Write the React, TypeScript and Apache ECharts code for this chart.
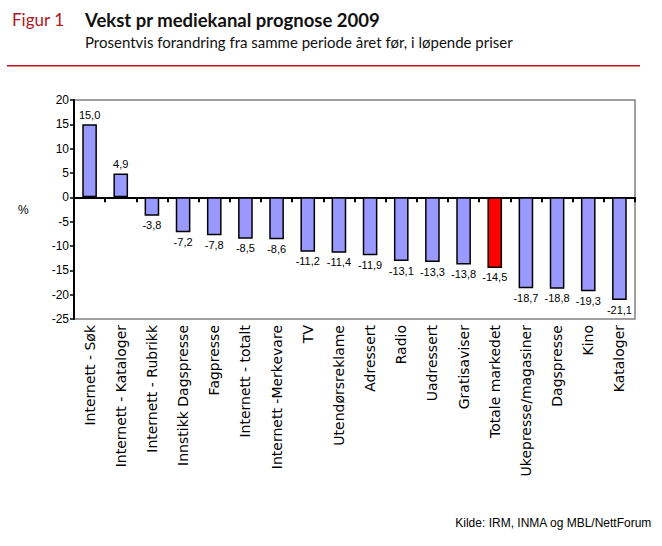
import React, { useEffect, useRef } from "react";
import * as echarts from "echarts";

const categories = [
  "Internett - Søk",
  "Internett - Kataloger",
  "Internett - Rubrikk",
  "Innstikk Dagspresse",
  "Fagpresse",
  "Internett - totalt",
  "Internett -Merkevare",
  "TV",
  "Utendørsreklame",
  "Adressert",
  "Radio",
  "Uadressert",
  "Gratisaviser",
  "Totale markedet",
  "Ukepresse/magasiner",
  "Dagspresse",
  "Kino",
  "Kataloger",
];
const growth = [15.0, 4.9, -3.8, -7.2, -7.8, -8.5, -8.6, -11.2, -11.4, -11.9, -13.1, -13.3, -13.8, -14.5, -18.7, -18.8, -19.3, -21.1];
const highlighted = "Totale markedet";
const yTicks = { min: -25, max: 20, interval: 5 };

export default function App() {
  const ref = useRef<HTMLDivElement>(null);
  useEffect(() => {
    document.body.style.margin = "0";
    if (!ref.current) return;
    const chart = echarts.init(ref.current, undefined, { renderer: "svg" });
    const labelFont = "'Liberation Sans', Arial, sans-serif";
    chart.setOption({
      animation: false,
      backgroundColor: "#ffffff",
      grid: {
        left: 74,
        right: 27,
        top: 100,
        bottom: 227,
        show: true,
        borderColor: "#808080",
        borderWidth: 1.5,
        backgroundColor: "transparent",
      },
      graphic: [
        {
          type: "text",
          left: 12,
          top: 11,
          style: { text: "Figur 1", fill: "#b0161e", font: "17px Lato, sans-serif" },
        },
        {
          type: "text",
          left: 85,
          top: 10,
          style: { text: "Vekst pr mediekanal prognose 2009", fill: "#111", font: "bold 18.5px Lato, sans-serif" },
        },
        {
          type: "text",
          left: 85,
          top: 34,
          style: { text: "Prosentvis forandring fra samme periode året før, i løpende priser", fill: "#111", font: "15px Lato, sans-serif" },
        },
        {
          type: "rect",
          shape: { x: 7, y: 65, width: 633, height: 1.5 },
          style: { fill: "#c8101a" },
        },
        {
          type: "text",
          left: 18,
          top: 204,
          style: { text: "%", fill: "#000", font: "12px " + labelFont },
        },
        {
          type: "text",
          right: 10,
          top: 517,
          style: { text: "Kilde: IRM, INMA og MBL/NettForum", fill: "#000", font: "12px " + labelFont },
        },
      ],
      xAxis: [
        {
          type: "category",
          data: categories,
          position: "bottom",
          axisLine: { onZero: true, lineStyle: { color: "#000", width: 2 } },
          axisTick: { show: true, interval: 0, alignWithLabel: false, length: 5, lineStyle: { color: "#000", width: 2 } },
          axisLabel: { show: false, interval: 0 },
          splitLine: { show: false },
        },
        {
          type: "category",
          data: categories,
          position: "bottom",
          axisLine: { show: false, onZero: false },
          axisTick: { show: false },
          axisLabel: {
            interval: 0,
            rotate: 90,
            margin: 6,
            color: "#000",
            fontSize: 14,
            fontFamily: "'DejaVu Sans', sans-serif",
          },
        },
      ],
      yAxis: {
        type: "value",
        min: yTicks.min,
        max: yTicks.max,
        interval: yTicks.interval,
        axisLine: { show: true, lineStyle: { color: "#000", width: 2 } },
        axisTick: { show: true, length: 4, lineStyle: { color: "#000", width: 1.5 } },
        axisLabel: { color: "#000", fontSize: 12, fontFamily: labelFont, margin: 5 },
        splitLine: { show: false },
      },
      series: [
        {
          type: "bar",
          xAxisIndex: 0,
          barWidth: "47%",
          data: growth.map((v, i) => ({
            value: v,
            itemStyle: { color: categories[i] === highlighted ? "#ff0000" : "#9999ff" },
            label: { position: v >= 0 ? "top" : "bottom" },
          })),
          itemStyle: { borderColor: "#000", borderWidth: 1.5 },
          label: {
            show: true,
            color: "#000",
            fontSize: 11,
            fontFamily: labelFont,
            distance: 4,
            formatter: (p: any) => Number(p.value).toFixed(1).replace(".", ","),
          },
        },
      ],
    });
    return () => chart.dispose();
  }, []);
  return <div ref={ref} style={{ width: 662, height: 546 }} />;
}
